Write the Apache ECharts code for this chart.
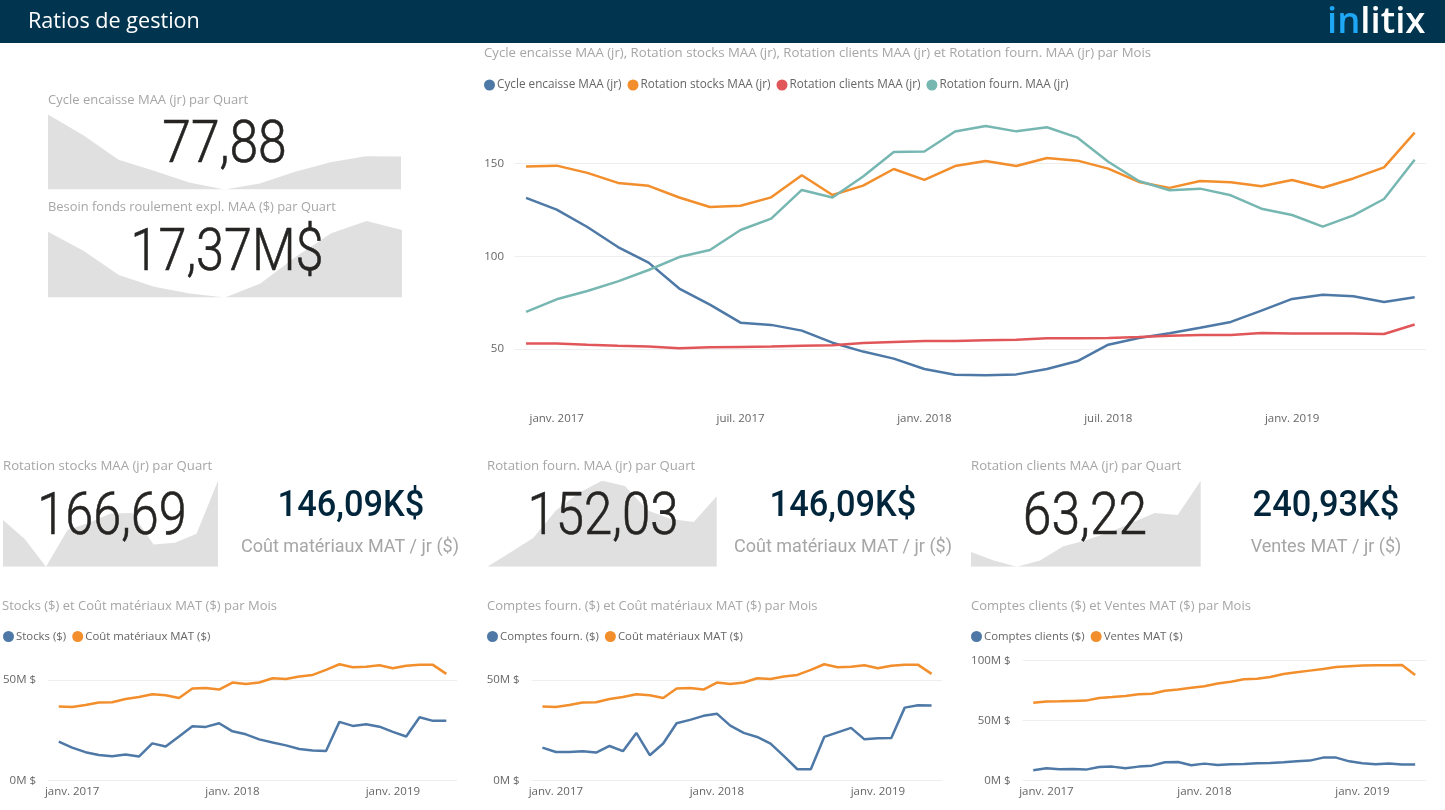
<!DOCTYPE html>
<html lang="fr">
<head>
<meta charset="UTF-8">
<title>Ratios de gestion</title>
<style>
  html, body { margin: 0; padding: 0; background: #fff; }
  #main { width: 1445px; height: 810px; }
</style>
</head>
<body>
<div id="main"></div>
<script src="https://cdn.jsdelivr.net/npm/echarts@6/dist/echarts.min.js"></script>
<script>
// mois : déc. 2016 -> mai 2019
var months = ['déc. 2016','janv. 2017','févr. 2017','mars 2017','avr. 2017','mai 2017','juin 2017','juil. 2017','août 2017','sept. 2017','oct. 2017','nov. 2017','déc. 2017','janv. 2018','févr. 2018','mars 2018','avr. 2018','mai 2018','juin 2018','juil. 2018','août 2018','sept. 2018','oct. 2018','nov. 2018','déc. 2018','janv. 2019','févr. 2019','mars 2019','avr. 2019','mai 2019'];
var quarters = ['T4 16','T1 17','T2 17','T3 17','T4 17','T1 18','T2 18','T3 18','T4 18','T1 19','T2 19'];

var cycleEncaisse = [131.5,125.2,115.8,105,96.6,82.6,73.9,64.2,63,59.9,53.4,48.6,44.8,39.2,36.1,35.9,36.3,39.2,43.5,52.3,55.9,58.5,61.5,64.6,70.7,77,79.3,78.4,75.4,77.88];
var rotationStocks = [148.4,148.9,145,139.6,138,131.7,126.6,127.3,131.8,143.7,133.1,138.1,147.1,141.2,148.7,151.4,148.7,153,151.6,147.3,140.1,136.9,140.6,139.9,137.8,141.2,137,142,148,166.69];
var rotationClients = [53,53,52.3,51.8,51.4,50.4,50.9,51.1,51.3,51.8,52,53.2,53.8,54.3,54.3,54.7,55,55.8,55.8,55.9,56.5,57.2,57.6,57.6,58.6,58.3,58.3,58.3,58.1,63.22];
var rotationFourn = [70,76.8,81.3,86.5,92.6,99.6,103.4,114.2,120.3,135.8,131.7,143,156.3,156.5,167.3,170.3,167.4,169.6,164,151,140.6,135.6,136.5,132.9,125.7,122.3,116,122.1,130.9,152.03];

var stocks = [19.3,16.3,14,12.6,12,12.8,11.8,18.4,16.8,21.8,26.9,26.6,28.4,24.4,22.9,20.4,18.8,17.4,15.6,14.8,14.6,29.1,27.1,27.9,26.7,24.1,21.8,31.4,29.6,29.6];
var coutMateriaux = [36.7,36.5,37.5,38.7,38.9,40.5,41.5,42.9,42.4,41,45.7,46,45.2,48.7,48,48.7,50.8,50.5,51.7,52.5,55,57.8,56.3,56.6,57.3,55.8,57.1,57.5,57.5,53];
var comptesFourn = [16.3,14.1,14.1,14.5,13.8,17.1,14.5,23.6,12.5,18.3,28.4,30.1,32.1,33.2,27.2,23.6,21.6,18.3,12,5.5,5.5,21.6,23.9,26.1,20.4,20.9,21.1,36.2,37.4,37.2];
var comptesClients = [8.3,10,9.2,9.4,8.9,11.1,11.4,10,11.4,12.2,15,15.3,12.5,13.9,12.8,13.3,13.6,14.2,14.4,15,15.8,16.4,18.9,18.9,15.8,14.2,13.3,13.9,13.1,13.1];
var ventesMat = [64.7,65.6,65.8,66.1,66.4,68.6,69.4,70.3,71.7,72.2,74.7,75.6,77.2,78.3,80.6,82.2,84.2,84.7,86.1,88.6,90,91.4,92.8,94.4,95,95.6,95.8,95.8,96.1,87.8];

// par trimestre
var sparkCycle = [131.5,105,73.9,59.9,44.8,35.9,43.5,58.5,70.7,78.4,77.88];
var sparkBesoin = [17.17,14.8,11.78,10.33,9.5,9,10.74,14.06,16.97,18.5,17.37];
var sparkStocks = [148.4,139.6,126.6,143.7,147.1,151.4,151.6,136.9,137.8,142,166.69];
var sparkFourn = [70,86.5,103.4,135.8,156.3,170.3,164,135.6,125.7,122.1,152.03];
var sparkClients = [53,51.8,50.9,51.8,53.8,54.7,55.8,57.2,58.6,58.3,63.22];

var BLUE = '#4e79a7', ORANGE = '#f28e2b', RED = '#e15759', TEAL = '#76b7b2';
var FONT = '"Open Sans", sans-serif';
var GREY = '#a6a6a6';
var DARK = '#252423';

var option = {
  animation: false,
  backgroundColor: '#fff',
  title: [], legend: [], grid: [], xAxis: [], yAxis: [], series: [],
  graphic: []
};

function addTitle(text, x, y, size) {
  option.title.push({
    text: text, left: x, top: y, padding: 0,
    textStyle: { fontFamily: FONT, fontSize: size || 13, fontWeight: 'normal', color: GREY }
  });
}

function addSpark(values, x0, x1, y0, y1) {
  var i = option.grid.length;
  option.grid.push({ left: x0, top: y0, width: x1 - x0, height: y1 - y0 });
  option.xAxis.push({ gridIndex: i, type: 'category', boundaryGap: false, data: quarters, show: false });
  option.yAxis.push({ gridIndex: i, type: 'value', min: 'dataMin', max: 'dataMax', show: false });
  option.series.push({
    type: 'line', xAxisIndex: i, yAxisIndex: i, data: values, symbol: 'none',
    lineStyle: { width: 0 }, areaStyle: { color: '#e0e0e0', opacity: 1, origin: 'start' }
  });
}

// graphique par mois : axe x sur l'index du mois pour garder la marge de Power BI
function addLines(cfg) {
  var i = option.grid.length;
  option.grid.push({ left: cfg.x0, top: cfg.y0, width: cfg.x1 - cfg.x0, height: cfg.y1 - cfg.y0 });
  option.xAxis.push({
    gridIndex: i, type: 'value', min: -cfg.pad, max: 29 + cfg.pad,
    axisLine: { show: false }, axisTick: { show: false }, splitLine: { show: false },
    axisLabel: {
      customValues: cfg.labelIdx, margin: cfg.xMargin, color: '#666', fontFamily: FONT, fontSize: 11.5,
      formatter: function (v) { return months[v]; }
    }
  });
  option.yAxis.push({
    gridIndex: i, type: 'value', min: cfg.min, max: cfg.max,
    axisLine: { show: false },
    axisTick: { show: false, customValues: cfg.yTicks },
    splitLine: { show: true, lineStyle: { color: '#eeeeee', width: 1 } },
    axisLabel: {
      customValues: cfg.yTicks, margin: cfg.yMargin, color: '#666', fontFamily: FONT, fontSize: 11.5,
      formatter: cfg.yFmt
    }
  });
  cfg.lines.forEach(function (l) {
    option.series.push({
      name: l.name, type: 'line', xAxisIndex: i, yAxisIndex: i, symbol: 'none',
      color: l.color, lineStyle: { width: 2.5, color: l.color },
      data: l.data.map(function (v, k) { return [k, v]; })
    });
  });
  option.legend.push({
    left: cfg.legendX, top: cfg.legendY, padding: 0, selectedMode: false, icon: 'circle',
    itemWidth: 11, itemHeight: 11, itemGap: 6,
    textStyle: { fontFamily: FONT, fontSize: cfg.legendSize, color: '#666', padding: [0, 0, 0, -3] },
    data: cfg.lines.map(function (l) { return l.name; })
  });
}

function bigText(text, x, y, size, color, weight, sx, thick) {
  option.graphic.push({
    type: 'text', x: x, y: y, z: 20, scaleX: sx, silent: true,
    style: {
      text: text, fontFamily: '"Roboto", sans-serif', fontSize: size, fontWeight: weight, fill: color,
      stroke: thick ? color : null, lineWidth: thick || 0, align: 'center', verticalAlign: 'middle'
    }
  });
}

// entête
option.graphic.push({ type: 'rect', shape: { x: 0, y: 0, width: 1445, height: 43 }, z: 0, silent: true, style: { fill: '#00344f' } });
option.graphic.push({ type: 'text', x: 28, y: 22, z: 5, silent: true, style: { text: 'Ratios de gestion', fontFamily: FONT, fontSize: 21.6, fill: '#fff', verticalAlign: 'middle' } });
option.graphic.push({
  type: 'text', x: 1327, y: 23, z: 5, silent: true,
  style: {
    text: '{a|in}{b|litix}', verticalAlign: 'middle',
    rich: {
      a: { fontFamily: FONT, fontSize: 36.5, fontWeight: 600, fill: '#1ea7f5' },
      b: { fontFamily: FONT, fontSize: 36.5, fontWeight: 600, fill: '#fff' }
    }
  }
});

addTitle('Cycle encaisse MAA (jr) par Quart', 48, 94);
addSpark(sparkCycle, 48, 401, 114.5, 189.5);
bigText('77,88', 224.5, 147, 60, DARK, 300, 0.86, 0.6);

addTitle('Besoin fonds roulement expl. MAA ($) par Quart', 48, 201, 12.9);
addSpark(sparkBesoin, 48, 402, 221, 297.5);
bigText('17,37M$', 227, 254.5, 60, DARK, 300, 0.84, 0.6);

addTitle('Rotation stocks MAA (jr) par Quart', 3, 460, 13.2);
addSpark(sparkStocks, 3, 218, 480.7, 566.7);
bigText('166,69', 112, 519, 60, DARK, 300, 0.84, 0.6);

addTitle('Rotation fourn. MAA (jr) par Quart', 487, 460, 13.2);
addSpark(sparkFourn, 487.3, 716.7, 480.7, 566.7);
bigText('152,03', 603, 519, 60, DARK, 300, 0.85, 0.6);

addTitle('Rotation clients MAA (jr) par Quart', 971, 460, 13.2);
addSpark(sparkClients, 971, 1200.7, 480.7, 566.7);
bigText('63,22', 1085, 519, 60, DARK, 300, 0.86, 0.6);

bigText('146,09K$', 351, 507, 37, '#01263b', 500, 0.93);
bigText('Coût matériaux MAT / jr ($)', 350, 547, 18, GREY, 400, 1);
bigText('146,09K$', 843, 507, 37, '#01263b', 500, 0.93);
bigText('Coût matériaux MAT / jr ($)', 843, 547, 18, GREY, 400, 1);
bigText('240,93K$', 1326, 507, 37, '#01263b', 500, 0.93);
bigText('Ventes MAT / jr ($)', 1326, 547, 18, GREY, 400, 1);

addTitle('Cycle encaisse MAA (jr), Rotation stocks MAA (jr), Rotation clients MAA (jr) et Rotation fourn. MAA (jr) par Mois', 484, 47, 13.2);
addLines({
  x0: 515, x1: 1425.7, y0: 108, y1: 404.6, pad: 0.36, min: 20, max: 180,
  yTicks: [50, 100, 150], yMargin: 11, xMargin: 8, labelIdx: [1, 7, 13, 19, 25],
  yFmt: function (v) { return v; },
  legendX: 484, legendY: 79, legendSize: 11.75,
  lines: [
    { name: 'Cycle encaisse MAA (jr)', color: BLUE, data: cycleEncaisse },
    { name: 'Rotation stocks MAA (jr)', color: ORANGE, data: rotationStocks },
    { name: 'Rotation clients MAA (jr)', color: RED, data: rotationClients },
    { name: 'Rotation fourn. MAA (jr)', color: TEAL, data: rotationFourn }
  ]
});

addTitle('Stocks ($) et Coût matériaux MAT ($) par Mois', 2, 600);
addLines({
  x0: 47.3, x1: 457, y0: 649.8, y1: 780.3, pad: 0.8, min: 0, max: 65,
  yTicks: [0, 50], yMargin: 12, xMargin: 5, labelIdx: [1, 13, 25],
  yFmt: function (v) { return v + 'M $'; },
  legendX: 3, legendY: 631, legendSize: 11.4,
  lines: [
    { name: 'Stocks ($)', color: BLUE, data: stocks },
    { name: 'Coût matériaux MAT ($)', color: ORANGE, data: coutMateriaux }
  ]
});

addTitle('Comptes fourn. ($) et Coût matériaux MAT ($) par Mois', 487, 600);
addLines({
  x0: 531.7, x1: 942.3, y0: 649.8, y1: 780.3, pad: 0.8, min: 0, max: 65,
  yTicks: [0, 50], yMargin: 12, xMargin: 5, labelIdx: [1, 13, 25],
  yFmt: function (v) { return v + 'M $'; },
  legendX: 487, legendY: 631, legendSize: 11.4,
  lines: [
    { name: 'Comptes fourn. ($)', color: BLUE, data: comptesFourn },
    { name: 'Coût matériaux MAT ($)', color: ORANGE, data: coutMateriaux }
  ]
});

addTitle('Comptes clients ($) et Ventes MAT ($) par Mois', 971, 600);
addLines({
  x0: 1022.7, x1: 1425.7, y0: 660.3, y1: 780.3, pad: 0.8, min: 0, max: 100,
  yTicks: [0, 50, 100], yMargin: 12, xMargin: 5, labelIdx: [1, 13, 25],
  yFmt: function (v) { return v + 'M $'; },
  legendX: 971, legendY: 631, legendSize: 11.4,
  lines: [
    { name: 'Comptes clients ($)', color: BLUE, data: comptesClients },
    { name: 'Ventes MAT ($)', color: ORANGE, data: ventesMat }
  ]
});

var myChart = echarts.init(document.getElementById('main'));
myChart.setOption(option);
</script>
</body>
</html>
